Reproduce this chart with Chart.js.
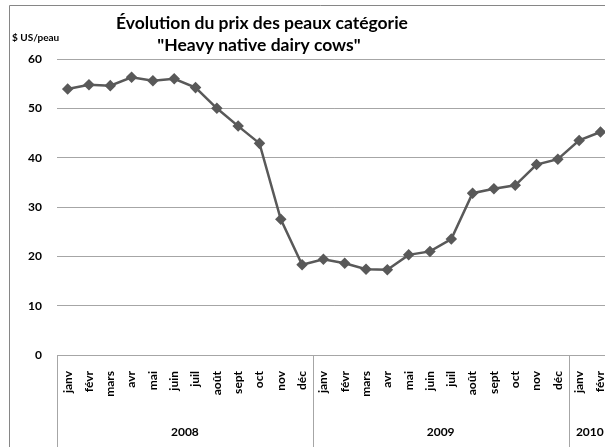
<!DOCTYPE html>
<html>
<head>
<meta charset="utf-8">
<script src="https://cdn.jsdelivr.net/npm/chart.js@4/dist/chart.umd.min.js"></script>
<style>
  html, body { margin: 0; padding: 0; background: #fff; overflow: hidden; }
</style>
</head>
<body>
<canvas id="chart" width="631" height="447"></canvas>
<script>
// Data
const months = [
    'janv', 'févr', 'mars', 'avr', 'mai', 'juin', 'juil', 'août', 'sept', 'oct', 'nov', 'déc',
    'janv', 'févr', 'mars', 'avr', 'mai', 'juin', 'juil', 'août', 'sept', 'oct', 'nov', 'déc',
    'janv', 'févr'
];
const years = ['2008', '2009', '2010'];
const monthsPerYear = [12, 12, 2];
const prices = [
    53.9, 54.8, 54.6, 56.3, 55.6, 56.0, 54.2, 50.0, 46.4, 42.9, 27.5, 18.3,
    19.4, 18.6, 17.4, 17.3, 20.3, 21.0, 23.5, 32.8, 33.7, 34.4, 38.6, 39.7,
    43.5, 45.2
];
const yTicks = [0, 10, 20, 30, 40, 50, 60];
const titleLines = ['Évolution du prix des peaux catégorie', '"Heavy native dairy cows"'];
const yAxisLabel = '$ US/peau';

const FONT = 'Lato, "Open Sans", sans-serif';

// Title, unit label, frame and year groups
const decorPlugin = {
    id: 'decor',
    afterDraw(chart) {
        const { ctx, chartArea, scales } = chart;
        const x = scales.x;
        ctx.save();

        // outer frame
        ctx.strokeStyle = '#868686';
        ctx.lineWidth = 1;
        ctx.beginPath();
        ctx.moveTo(9.5, chart.height + 5);
        ctx.lineTo(9.5, 5.5);
        ctx.lineTo(chart.width + 5, 5.5);
        ctx.stroke();

        // title
        ctx.fillStyle = '#000';
        ctx.textAlign = 'center';
        ctx.textBaseline = 'middle';
        ctx.font = 'bold 17.5px ' + FONT;
        ctx.fillText(titleLines[0], 262, 23);
        ctx.fillText(titleLines[1], 259, 45);

        // unit label
        ctx.textAlign = 'left';
        ctx.font = 'bold 10px ' + FONT;
        ctx.fillText(yAxisLabel, 12, 38);

        // year groups
        ctx.strokeStyle = '#a6a6a6';
        const half = (x.getPixelForValue(1) - x.getPixelForValue(0)) / 2;
        let start = 0;
        const edges = [Math.round(chartArea.left) + 0.5];
        years.forEach((yr, i) => {
            const end = start + monthsPerYear[i] - 1;
            const x0 = x.getPixelForValue(start) - half;
            const x1 = x.getPixelForValue(end) + half;
            edges.push(Math.round(x1) + 0.5);
            ctx.font = 'bold 12px ' + FONT;
            ctx.textAlign = 'center';
            ctx.fillText(yr, (x0 + x1) / 2, 432);
            start = end + 1;
        });
        ctx.beginPath();
        edges.forEach(ex => {
            ctx.moveTo(ex, chartArea.bottom);
            ctx.lineTo(ex, chart.height);
        });
        ctx.stroke();
        ctx.restore();
    }
};

new Chart(document.getElementById('chart').getContext('2d'), {
    type: 'line',
    data: {
        labels: months,
        datasets: [{
            data: prices,
            borderColor: '#595959',
            backgroundColor: '#595959',
            borderWidth: 2.5,
            pointStyle: 'rectRot',
            pointRadius: 4,
            pointHoverRadius: 4,
            tension: 0
        }]
    },
    options: {
        responsive: false,
        animation: false,
        layout: { padding: { top: 59, left: 0, right: 1, bottom: 0 } },
        plugins: {
            legend: { display: false },
            title: { display: false },
            tooltip: { enabled: false }
        },
        scales: {
            x: {
                offset: true,
                grid: { display: false, drawTicks: false },
                border: { display: true, color: '#a6a6a6' },
                ticks: {
                    autoSkip: false,
                    minRotation: 90,
                    maxRotation: 90,
                    padding: 16,
                    color: '#000',
                    font: { family: FONT, size: 12, weight: 'bold' }
                },
                afterFit: (scale) => { scale.height = 92; }
            },
            y: {
                min: 0,
                max: 60,
                afterBuildTicks: (scale) => { scale.ticks = yTicks.map(v => ({ value: v })); },
                grid: { color: '#a6a6a6', drawTicks: false },
                border: { display: false },
                ticks: {
                    padding: 15,
                    color: '#000',
                    font: { family: FONT, size: 12, weight: 'bold' }
                },
                afterFit: (scale) => { scale.width = 57; }
            }
        }
    },
    plugins: [decorPlugin]
});
</script>
</body>
</html>
